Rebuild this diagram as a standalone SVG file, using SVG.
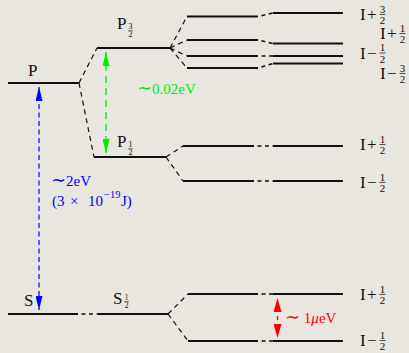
<svg xmlns="http://www.w3.org/2000/svg" width="409" height="353" viewBox="0 0 409 353">
<style>
.lvl{stroke:#111;stroke-width:1.8;fill:none}
.dsh{stroke:#111;stroke-width:1.2;stroke-dasharray:5 4;fill:none}
.gap{stroke:#111;stroke-width:1.6;stroke-dasharray:4 3.5;stroke-dashoffset:4;fill:none}
.t{font-family:"Liberation Serif","Times New Roman","DejaVu Serif",serif;font-size:17px;fill:#111}
.e{font-size:15px}
.sim{font-family:"DejaVu Serif",serif;font-size:18px}
.fr{font-size:11px;text-anchor:middle}
.sb{font-size:8px;text-anchor:middle}
.bar{stroke:#111;stroke-width:0.7}
.sbar{stroke:#111;stroke-width:0.5}
.blue{fill:#0000ff}
.green{fill:#00ee00}
.red{fill:#ff0000}
</style>
<defs>
<marker id="hb" viewBox="0 0 14 7" refX="14" refY="3.5" markerWidth="14" markerHeight="7" markerUnits="userSpaceOnUse" orient="auto-start-reverse"><path d="M0,0 L14,3.5 L0,7 Z" fill="#0000ff"/></marker>
<marker id="hg" viewBox="0 0 14 7" refX="14" refY="3.5" markerWidth="14" markerHeight="7" markerUnits="userSpaceOnUse" orient="auto-start-reverse"><path d="M0,0 L14,3.5 L0,7 Z" fill="#00ee00"/></marker>
<marker id="hr" viewBox="0 0 14 8" refX="14" refY="4" markerWidth="14" markerHeight="8" markerUnits="userSpaceOnUse" orient="auto-start-reverse"><path d="M0,0 L14,4 L0,8 Z" fill="#ff0000"/></marker>
</defs>
<rect x="0" y="0" width="409" height="353" fill="#e9e6e0"/>

<g id="connectors">
  <!-- fine structure splitting -->
  <line class="dsh" x1="79" y1="83" x2="97" y2="48"/>
  <line class="dsh" x1="79" y1="83" x2="94" y2="157"/>
  <!-- P3/2 hyperfine splitting -->
  <line class="dsh" x1="170" y1="48" x2="187" y2="16.5"/>
  <line class="dsh" x1="170" y1="48" x2="187" y2="40"/>
  <line class="dsh" x1="170" y1="48" x2="187" y2="56"/>
  <line class="dsh" x1="170" y1="48" x2="187" y2="68"/>
  <!-- P1/2 hyperfine splitting -->
  <line class="dsh" x1="166" y1="157" x2="183" y2="146"/>
  <line class="dsh" x1="166" y1="157" x2="183" y2="181"/>
  <!-- S1/2 hyperfine splitting -->
  <line class="dsh" x1="168" y1="314" x2="188" y2="294"/>
  <line class="dsh" x1="168" y1="314" x2="188" y2="341"/>
  <!-- gaps -->
  <line class="gap" x1="78" y1="314" x2="98" y2="314"/>
  <line class="gap" x1="258" y1="16.5" x2="273" y2="13"/>
  <line class="gap" x1="258" y1="40" x2="273" y2="43.5"/>
  <line class="gap" x1="258" y1="56" x2="273" y2="56"/>
  <line class="gap" x1="258" y1="68" x2="273" y2="63.5"/>
  <line class="gap" x1="254" y1="146" x2="273" y2="146"/>
  <line class="gap" x1="254" y1="181" x2="273" y2="181"/>
  <line class="gap" x1="258" y1="294" x2="273" y2="294"/>
  <line class="gap" x1="258" y1="341" x2="273" y2="341"/>
  <!-- energy arrows -->
  <line x1="39" y1="87" x2="39" y2="310" stroke="#0000ff" stroke-width="1.2" stroke-dasharray="5 3.5" marker-start="url(#hb)" marker-end="url(#hb)"/>
  <line x1="106" y1="52" x2="106" y2="153" stroke="#00ee00" stroke-width="1.3" stroke-dasharray="7 5" marker-start="url(#hg)" marker-end="url(#hg)"/>
  <line x1="277.5" y1="298" x2="277.5" y2="338" stroke="#ff0000" stroke-width="1.3" stroke-dasharray="0 18 4 100" marker-start="url(#hr)" marker-end="url(#hr)"/>
  <text class="t e blue" x="51" y="186"><tspan class="sim">∼</tspan>2eV</text>
  <text class="t e blue" x="52" y="206">(3</text>
  <text class="t e blue" x="70" y="206">×</text>
  <text class="t e blue" x="88" y="206">10</text>
  <text class="t blue" x="104" y="198" style="font-size:10.5px">−19</text>
  <text class="t e blue" x="121" y="206">J)</text>
  <text class="t e green" x="137" y="94"><tspan class="sim">∼</tspan>0.02eV</text>
  <text class="t e red" x="285" y="322.5"><tspan class="sim">∼</tspan> 1<tspan font-style="italic">μ</tspan>eV</text>
</g>

<g id="level-P">
  <line class="lvl" x1="8" y1="83" x2="79" y2="83"/>
  <text class="t" x="28" y="76">P</text>
</g>

<g id="level-P3_2">
  <line class="lvl" x1="97" y1="48" x2="170" y2="48"/>
  <text class="t" x="117" y="29">P</text>
  <text class="t sb" x="130.5" y="29">3</text>
  <line class="sbar" x1="128" y1="30.7" x2="133" y2="30.7"/>
  <text class="t sb" x="130.5" y="37">2</text>
</g>

<g id="level-P1_2">
  <line class="lvl" x1="94" y1="157" x2="166" y2="157"/>
  <text class="t" x="117" y="147">P</text>
  <text class="t sb" x="130.5" y="147">1</text>
  <line class="sbar" x1="128" y1="148.7" x2="133" y2="148.7"/>
  <text class="t sb" x="130.5" y="155">2</text>
</g>

<g id="level-S">
  <line class="lvl" x1="8" y1="314" x2="78" y2="314"/>
  <text class="t" x="24" y="306">S</text>
</g>

<g id="level-S1_2">
  <line class="lvl" x1="98" y1="314" x2="168" y2="314"/>
  <text class="t" x="113" y="304">S</text>
  <text class="t sb" x="126.5" y="300" style="font-size:7.5px">1</text>
  <line class="sbar" x1="124" y1="301.5" x2="129" y2="301.5"/>
  <text class="t sb" x="126.5" y="307.5" style="font-size:7.5px">2</text>
</g>

<g id="hf-P3_2-a">
  <line class="lvl" x1="187" y1="16.5" x2="258" y2="16.5"/>
  <line class="lvl" x1="273" y1="13" x2="343" y2="13"/>
  <text class="t" x="360" y="20">I</text>
  <text class="t" x="367" y="20">+</text>
  <text class="t fr" x="382.5" y="12.5">3</text>
  <line class="bar" x1="379.5" y1="14.5" x2="385.5" y2="14.5"/>
  <text class="t fr" x="382.5" y="23.5">2</text>
</g>

<g id="hf-P3_2-b">
  <line class="lvl" x1="187" y1="40" x2="258" y2="40"/>
  <line class="lvl" x1="273" y1="43.5" x2="343" y2="43.5"/>
  <text class="t" x="380" y="39">I</text>
  <text class="t" x="387" y="39">+</text>
  <text class="t fr" x="402.5" y="31.5">1</text>
  <line class="bar" x1="399.5" y1="33.5" x2="405.5" y2="33.5"/>
  <text class="t fr" x="402.5" y="43">2</text>
</g>

<g id="hf-P3_2-c">
  <line class="lvl" x1="187" y1="56" x2="258" y2="56"/>
  <line class="lvl" x1="273" y1="56" x2="343" y2="56"/>
  <text class="t" x="360" y="58.5">I</text>
  <text class="t" x="367" y="58.5">−</text>
  <text class="t fr" x="382.5" y="51">1</text>
  <line class="bar" x1="379.5" y1="53" x2="385.5" y2="53"/>
  <text class="t fr" x="382.5" y="62.5">2</text>
</g>

<g id="hf-P3_2-d">
  <line class="lvl" x1="187" y1="68" x2="258" y2="68"/>
  <line class="lvl" x1="273" y1="63.5" x2="343" y2="63.5"/>
  <text class="t" x="380" y="79">I</text>
  <text class="t" x="387" y="79">−</text>
  <text class="t fr" x="402.5" y="71.5">3</text>
  <line class="bar" x1="399.5" y1="73.5" x2="405.5" y2="73.5"/>
  <text class="t fr" x="402.5" y="83">2</text>
</g>

<g id="hf-P1_2-a">
  <line class="lvl" x1="183" y1="146" x2="254" y2="146"/>
  <line class="lvl" x1="273" y1="146" x2="343" y2="146"/>
  <text class="t" x="360" y="150">I</text>
  <text class="t" x="367" y="150">+</text>
  <text class="t fr" x="382.5" y="142.5">1</text>
  <line class="bar" x1="379.5" y1="144.5" x2="385.5" y2="144.5"/>
  <text class="t fr" x="382.5" y="154">2</text>
</g>

<g id="hf-P1_2-b">
  <line class="lvl" x1="183" y1="181" x2="254" y2="181"/>
  <line class="lvl" x1="273" y1="181" x2="343" y2="181"/>
  <text class="t" x="360" y="188">I</text>
  <text class="t" x="367" y="188">−</text>
  <text class="t fr" x="382.5" y="180.5">1</text>
  <line class="bar" x1="379.5" y1="182.5" x2="385.5" y2="182.5"/>
  <text class="t fr" x="382.5" y="192">2</text>
</g>

<g id="hf-S1_2-a">
  <line class="lvl" x1="188" y1="294" x2="258" y2="294"/>
  <line class="lvl" x1="273" y1="294" x2="343" y2="294"/>
  <text class="t" x="360" y="300">I</text>
  <text class="t" x="367" y="300">+</text>
  <text class="t fr" x="382.5" y="292.5">1</text>
  <line class="bar" x1="379.5" y1="294.5" x2="385.5" y2="294.5"/>
  <text class="t fr" x="382.5" y="304">2</text>
</g>

<g id="hf-S1_2-b">
  <line class="lvl" x1="188" y1="341" x2="258" y2="341"/>
  <line class="lvl" x1="273" y1="341" x2="343" y2="341"/>
  <text class="t" x="360" y="346">I</text>
  <text class="t" x="367" y="346">−</text>
  <text class="t fr" x="382.5" y="338.5">1</text>
  <line class="bar" x1="379.5" y1="340.5" x2="385.5" y2="340.5"/>
  <text class="t fr" x="382.5" y="350">2</text>
</g>
</svg>
